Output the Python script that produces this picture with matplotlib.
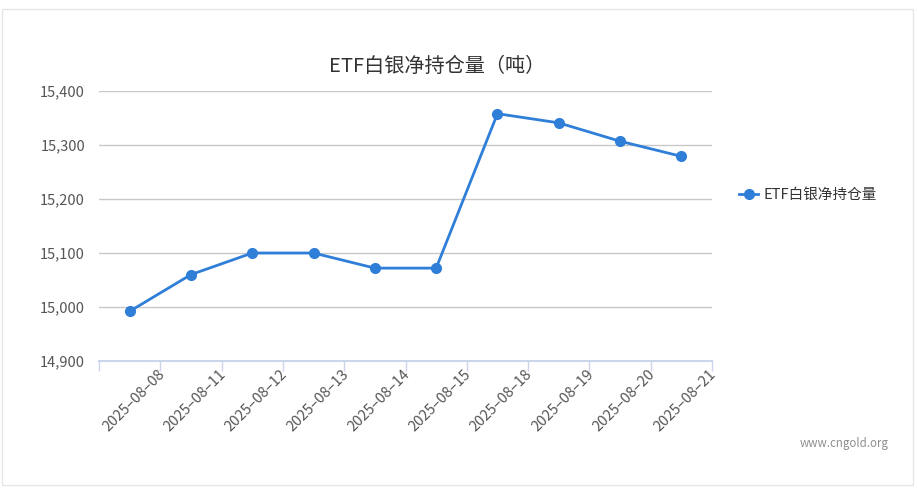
import matplotlib.pyplot as plt
import matplotlib.transforms as mtransforms
from matplotlib.patches import Rectangle
import numpy as np

plt.rcParams['font.family'] = ['Noto Sans CJK SC', 'DejaVu Sans']

dates = ['2025-08-08', '2025-08-11', '2025-08-12', '2025-08-13', '2025-08-14',
         '2025-08-15', '2025-08-18', '2025-08-19', '2025-08-20', '2025-08-21']
holdings = [14992, 15060, 15100, 15100, 15072, 15072, 15358, 15341, 15307, 15279]
yticks = [14900, 15000, 15100, 15200, 15300, 15400]

blue = '#2f7ed8'

fig = plt.figure(figsize=(9.18, 4.92), dpi=100)
fig.patches.append(Rectangle((2/918, 1-485/492), 911/918, 476/492, transform=fig.transFigure,
                             fill=False, edgecolor='#e6e6e6', linewidth=1))

ax = fig.add_axes([99/918, 1-361/492, 613/918, 270/492])
x = np.arange(len(dates))
ax.plot(x, holdings, color=blue, lw=2, marker='o', markersize=7, label='ETF白银净持仓量',
        zorder=3, clip_on=False)

ax.set_xlim(-0.5, len(dates) - 0.5)
ax.set_ylim(14900, 15400)
ax.set_yticks(yticks)
ax.set_yticklabels([f'{v:,}' for v in yticks])
ax.grid(axis='y', color='#c8c8c8', lw=1)
ax.set_axisbelow(True)

ax.set_xticks(np.arange(-0.5, len(dates)))
ax.set_xticklabels([''] * (len(dates) + 1))
ax.tick_params(axis='x', length=7, color='#ccd6eb', width=1)
ax.tick_params(axis='y', length=0, labelsize=10.5, labelcolor='#555555', pad=10)

# date labels sit at the right boundary tick of each category
offset = mtransforms.ScaledTranslation(-3/100, -6/100, fig.dpi_scale_trans)
for i, d in enumerate(dates):
    ax.text(i + 0.5, 14900, d.replace('-', '–'), rotation=45, ha='right', va='top',
            rotation_mode='anchor', fontsize=10.5, color='#555555',
            transform=ax.transData + offset)

for s in ['top', 'right', 'left']:
    ax.spines[s].set_visible(False)
ax.spines['bottom'].set_color('#ccd6eb')
ax.spines['bottom'].set_linewidth(1.5)

fig.text(437/918, 1-66/492, 'ETF白银净持仓量（吨）', ha='center', va='center',
         fontsize=14.5, color='#333333')

ax.legend(loc='center left', bbox_to_anchor=(726/918, 1-195/492), bbox_transform=fig.transFigure,
          frameon=False, fontsize=10.5, handlelength=1.3, handletextpad=0.4, labelcolor='#333333')

fig.text(889/918, 1-443/492, 'www.cngold.org', ha='right', va='center', fontsize=8.3,
         color='#909090')

fig.savefig('out.png', dpi=100)
